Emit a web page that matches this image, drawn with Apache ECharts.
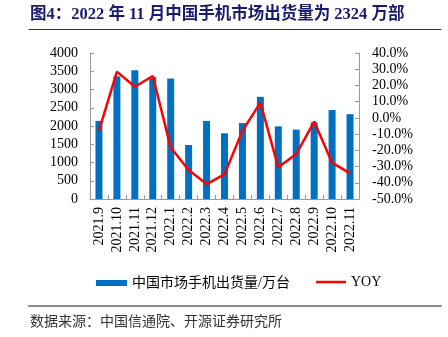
<!DOCTYPE html>
<html><head><meta charset="utf-8">
<script src="https://cdn.jsdelivr.net/npm/echarts@6/dist/echarts.min.js"></script>
<style>html,body{margin:0;padding:0;background:#fff}#c{width:448px;height:337px}</style>
</head><body><div id="c"></div>
<script>
var categories = ['2021.9','2021.10','2021.11','2021.12','2022.1','2022.2','2022.3','2022.4','2022.5','2022.6','2022.7','2022.8','2022.9','2022.10','2022.11'];
var shipments = [2140, 3360, 3530, 3340, 3300, 1480, 2140, 1800, 2080, 2800, 1990, 1900, 2100, 2440, 2324];
var yoy = [-7.8, 28.5, 19.2, 25.8, -18.2, -32.1, -40.8, -34.8, -8.0, 9.4, -30.5, -22.3, -2.3, -27.6, -34.2];
var barName = '中国市场手机出货量/万台';
var lineName = 'YOY';
var titleText = '图4：2022 年 11 月中国手机市场出货量为 2324 万部';
var sourceText = '数据来源：中国信通院、开源证券研究所';

var serif = '"Liberation Serif", "Times New Roman", serif';
var cjk = '"Liberation Serif", "Noto Sans CJK SC", serif';
function ruleAxis(gridIndex, color, width) {
  return {type: 'value', gridIndex: gridIndex, min: 0, max: 1, position: 'bottom',
    axisLine: {show: true, lineStyle: {color: color, width: width}},
    axisTick: {show: false}, axisLabel: {show: false}, splitLine: {show: false}};
}
function hiddenY(gridIndex) {
  return {type: 'value', gridIndex: gridIndex, show: false, min: 0, max: 1};
}
var chart = echarts.init(document.getElementById('c'), null, {renderer: 'canvas'});
chart.setOption({
  animation: false,
  backgroundColor: '#fff',
  grid: [
    {left: 90, right: 89, top: 53, bottom: 138, containLabel: false, outerBoundsMode: 'none'},
    {left: 29, right: 7, top: 28.5, height: 1, containLabel: false, outerBoundsMode: 'none'},
    {left: 29, right: 7, top: 304.5, height: 1, containLabel: false, outerBoundsMode: 'none'}
  ],
  title: [
    {text: titleText, left: 30, top: 6, padding: 0,
     textStyle: {fontFamily: cjk, fontSize: 16.5, fontWeight: 'bold', color: '#1a1a6e'}},
    {text: sourceText, left: 30, top: 314, padding: 0,
     textStyle: {fontFamily: '"Noto Sans CJK SC", sans-serif', fontSize: 14, fontWeight: 'normal', color: '#333'}}
  ],
  legend: [
    {left: 91, top: 271, itemWidth: 31, itemHeight: 6, itemGap: 10, data: [{name: barName, icon: 'rect'}],
     textStyle: {fontFamily: cjk, fontSize: 14, color: '#000'}},
    {left: 311, top: 270, itemWidth: 30, itemHeight: 2.5, data: [{name: lineName, icon: 'rect'}],
     textStyle: {fontFamily: serif, fontSize: 14, color: '#000'}}
  ],
  xAxis: [
    {type: 'category', data: categories, gridIndex: 0,
     axisLine: {lineStyle: {color: '#999', width: 1}},
     axisTick: {show: true, inside: true, length: 4, lineStyle: {color: '#999'}},
     axisLabel: {rotate: 90, margin: 8, fontFamily: serif, fontSize: 14, color: '#000', interval: 0}},
    ruleAxis(1, '#333333', 1),
    ruleAxis(2, '#8a8a8a', 2)
  ],
  yAxis: [
    {type: 'value', gridIndex: 0, min: 0, max: 4000, interval: 500,
     axisLine: {show: true, lineStyle: {color: '#999'}},
     axisTick: {show: true, inside: true, length: 4, lineStyle: {color: '#999'}},
     splitLine: {show: false},
     axisLabel: {margin: 12, fontFamily: serif, fontSize: 14, color: '#000',
       formatter: function (v) { return String(v); }}},
    {type: 'value', gridIndex: 0, min: -50, max: 40, interval: 10, position: 'right',
     axisLine: {show: true, lineStyle: {color: '#999'}},
     axisTick: {show: true, inside: true, length: 4, lineStyle: {color: '#999'}},
     splitLine: {show: false},
     axisLabel: {margin: 13, fontFamily: serif, fontSize: 14, color: '#000',
       formatter: function (v) { return v.toFixed(1) + '%'; }}},
    hiddenY(1),
    hiddenY(2)
  ],
  series: [
    {name: barName, type: 'bar', xAxisIndex: 0, yAxisIndex: 0, data: shipments, barWidth: 7, itemStyle: {color: '#0070C0'}},
    {name: lineName, type: 'line', xAxisIndex: 0, yAxisIndex: 1, data: yoy, showSymbol: false, symbol: 'none',
     lineStyle: {color: '#FF0000', width: 2.5}, itemStyle: {color: '#FF0000'}}
  ]
});
</script></body></html>
